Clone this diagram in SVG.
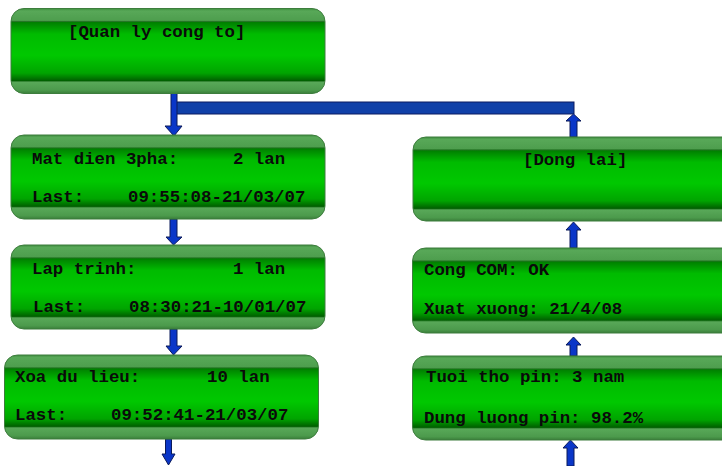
<svg xmlns="http://www.w3.org/2000/svg" width="722" height="466" viewBox="0 0 722 466">
<style>
.box{fill:url(#g);stroke:#3d7d3d;stroke-width:1}
.t{font-family:"Liberation Mono","Courier New",monospace;font-weight:bold;font-size:17.4px;fill:#0a0a0a}
.ar{fill:#0a36c8;stroke:#0a1a5a;stroke-width:1}
.bar{fill:#1040a8;stroke:#0a1a60;stroke-width:1}
</style>
<defs>
<linearGradient id="g" x1="0" y1="0" x2="0" y2="1">
<stop offset="0" stop-color="#3f8f3f"/>
<stop offset="0.03" stop-color="#58a858"/>
<stop offset="0.14" stop-color="#4e9e4e"/>
<stop offset="0.155" stop-color="#1f6f1f"/>
<stop offset="0.165" stop-color="#008000"/>
<stop offset="0.3" stop-color="#00bb00"/>
<stop offset="0.55" stop-color="#00c800"/>
<stop offset="0.76" stop-color="#00a400"/>
<stop offset="0.85" stop-color="#005f00"/>
<stop offset="0.857" stop-color="#2f7f2f"/>
<stop offset="0.87" stop-color="#58a858"/>
<stop offset="0.96" stop-color="#4c9a4c"/>
<stop offset="1" stop-color="#3a7e3a"/>
</linearGradient>
</defs>
<g id="connectors">
<rect class="bar" x="176" y="102" width="398" height="12"/>
<polygon class="ar" points="171,93 177,93 177,126 182,126 174,136 165,126 171,126"/>
<polygon class="ar" points="570,137 577,137 577,121 581,121 573.5,114 566,121 570,121"/>
<polygon class="ar" points="170,219 177,219 177,237 182,237 173.5,245 166,237 170,237"/>
<polygon class="ar" points="170,329 177,329 177,346 182,346 173.5,355 166,346 170,346"/>
<polygon class="ar" points="165.5,439 171.5,439 171.5,454 175,454 168.5,465 162,454 165.5,454"/>
<polygon class="ar" points="570,248 577,248 577,230 581,230 573.5,222 566,230 570,230"/>
<polygon class="ar" points="570,356 577,356 577,345 581,345 573.5,337 566,345 570,345"/>
<polygon class="ar" points="567,466 574,466 574,448 578,448 570.5,440 563,448 567,448"/>
</g>
<g id="quan-ly">
<rect class="box" x="11" y="8.5" width="314" height="85" rx="13"/>
<text class="t" x="68" y="37">[Quan ly cong to]</text>
</g>
<g id="mat-dien">
<rect class="box" x="11" y="135" width="314" height="84" rx="13"/>
<text class="t" x="32" y="164">Mat dien 3pha:</text>
<text class="t" x="233" y="164">2 lan</text>
<text class="t" x="32" y="202">Last:</text>
<text class="t" x="128" y="202">09:55:08-21/03/07</text>
</g>
<g id="lap-trinh">
<rect class="box" x="11" y="245" width="314" height="84" rx="13"/>
<text class="t" x="32" y="274">Lap trinh:</text>
<text class="t" x="233" y="274">1 lan</text>
<text class="t" x="33" y="312">Last:</text>
<text class="t" x="129" y="312">08:30:21-10/01/07</text>
</g>
<g id="xoa-du-lieu">
<rect class="box" x="4.5" y="355" width="314" height="84" rx="13"/>
<text class="t" x="15" y="382">Xoa du lieu:</text>
<text class="t" x="207" y="382">10 lan</text>
<text class="t" x="15" y="420">Last:</text>
<text class="t" x="111" y="420">09:52:41-21/03/07</text>
</g>
<g id="dong-lai">
<rect class="box" x="413" y="137" width="330" height="84" rx="13"/>
<text class="t" x="523" y="165">[Dong lai]</text>
</g>
<g id="cong-com">
<rect class="box" x="412.5" y="248" width="330" height="85" rx="13"/>
<text class="t" x="424" y="275">Cong COM: OK</text>
<text class="t" x="424" y="314">Xuat xuong: 21/4/08</text>
</g>
<g id="tuoi-tho">
<rect class="box" x="412.5" y="356" width="330" height="84" rx="13"/>
<text class="t" x="426" y="382">Tuoi tho pin: 3 nam</text>
<text class="t" x="424" y="423">Dung luong pin: 98.2%</text>
</g>
</svg>
